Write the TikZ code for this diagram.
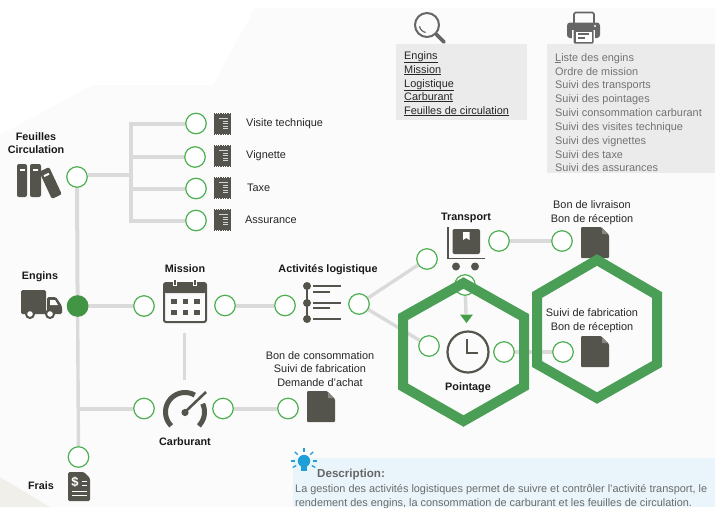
\documentclass[tikz,border=0pt]{standalone}
\usepackage{fontspec}
\setmainfont{Liberation Sans}
\usetikzlibrary{backgrounds}
\definecolor{ink}{HTML}{55544C}
\definecolor{ringgreen}{HTML}{4CAF50}
\definecolor{hexgreen}{HTML}{4A9E55}
\definecolor{linegray}{HTML}{DADADA}
\definecolor{panelgray}{HTML}{EBEBEB}
\definecolor{iconblue}{HTML}{1E9FD8}
\newcommand{\receiptico}[2]{%
  \fill[ink] (#1-8.5,#2-10) rectangle (#1+8.5,#2+10);
  \draw[ink,line width=1.2pt,dash pattern=on 1.3pt off 1pt] (#1-8.5,#2-10.4) -- (#1+8.5,#2-10.4);
  \draw[ink,line width=1.2pt,dash pattern=on 1.3pt off 1pt] (#1-8.5,#2+10.4) -- (#1+8.5,#2+10.4);
  \foreach \yy/\xx in {-5.5/-3,-3/1,-0.5/1,2/1,4.5/1}{\draw[white!75!ink,line width=1pt] (#1+\xx,#2+\yy) -- (#1+6,#2+\yy);}
}
\newcommand{\docico}[2]{%
  \fill[ink,rounded corners=1pt] (#1,#2) -- (#1+20,#2) -- (#1+28,#2+8) -- (#1+28,#2+31) -- (#1,#2+31) -- cycle;
  \fill[white] (#1+20.5,#2-0.5) -- (#1+28.5,#2-0.5) -- (#1+28.5,#2+7.5) -- cycle;
  \fill[ink!70!white] (#1+21,#2+1) -- (#1+27,#2+7) -- (#1+21,#2+7) -- cycle;
}
\begin{document}
\begin{tikzpicture}[x=1pt,y=-1pt,
  lbl/.style={inner sep=0pt,font=\fontsize{10.9}{13.7}\selectfont,text=black!85,align=center},
  blbl/.style={inner sep=0pt,font=\fontsize{10.8}{13.7}\selectfont\bfseries,text=black!90,align=center},
  panel/.style={inner sep=0pt,anchor=base west,font=\fontsize{10.9}{13.7}\selectfont},
  ring/.style={circle,draw=ringgreen,line width=1.2pt,fill=white,minimum size=20.5pt,inner sep=0pt},
  conn/.style={draw=linegray,line width=4pt},
  thin conn/.style={draw=linegray,line width=3.4pt},
  hexa/.style={draw=hexgreen,line width=10pt,miter limit=10,line join=miter}]
\useasboundingbox (0,0) rectangle (715,507);
% rings
\node[ring] (feuilles) at (77,177) {};
\node[ring,fill=ringgreen!85!black,draw=ringgreen!85!black] (engins) at (77.6,306) {};
\node[ring] (missionL) at (144,306) {};
\node[ring] (missionR) at (225,305.5) {};
\node[ring] (actL) at (285,305.5) {};
\node[ring] (actR) at (359,304) {};
\node[ring] (transL) at (427,259) {};
\node[ring] (transR) at (499,241) {};
\node[ring] (bonLiv) at (562,241) {};
\node[ring] (transD) at (465,285) {};
\node[ring] (pointL) at (429,346) {};
\node[ring] (pointR) at (504,352) {};
\node[ring] (suivi) at (563,352) {};
\node[ring] (carbL) at (144,408.5) {};
\node[ring] (carbR) at (223,408.5) {};
\node[ring] (bonCons) at (288,408.5) {};
\node[ring] (frais) at (78.5,457) {};
\node[ring] (visite) at (196,123.5) {};
\node[ring] (vignette) at (195,157) {};
\node[ring] (taxe) at (196,188.5) {};
\node[ring] (assur) at (196,220.5) {};
\coordinate (busTop) at (131,123.5);
\coordinate (busFeuilles) at (131,175);
\coordinate (busVig) at (131,157);
\coordinate (busTaxe) at (131,188.5);
\coordinate (busBot) at (131,220.5);
\coordinate (mainCarb) at (78,408.5);
\coordinate (vTop) at (184.5,333);
\coordinate (vBot) at (184.5,380);
\coordinate (arrowEnd) at (466,314);
% background and connectors
\begin{scope}[on background layer]
  \fill[white] (0,0) rectangle (715,507);
  \fill[black!1.5] (255,8) -- (715,8) -- (715,507) -- (50,507) -- (0,477) -- (0,135) -- (93,85) -- (213,85) -- cycle;
  \fill[black!7!white!97!yellow] (0,477) -- (50,507) -- (0,507) -- cycle;
  \fill[panelgray] (396,44) rectangle (527,120);
  \fill[panelgray] (547,44) rectangle (715,173);
  \fill[iconblue!10] (293,458) rectangle (715,507);
  \draw[conn] (feuilles) -- (engins);
  \draw[thin conn] (engins) -- (frais);
  \draw[conn] (feuilles.east |- busFeuilles) -- (busFeuilles);
  \draw[conn] (131,121.5) -- (131,222.5);
  \draw[conn] (busTop) -- (visite);
  \draw[conn] (busVig) -- (vignette);
  \draw[conn] (busTaxe) -- (taxe);
  \draw[conn] (busBot) -- (assur);
  \draw[conn] (engins) -- (missionL);
  \draw[conn] (missionR) -- (actL);
  \draw[thin conn] (actR) -- (transL);
  \draw[thin conn] (actR) -- (pointL);
  \draw[thin conn] (transR) -- (bonLiv);
  \draw[thin conn] (transD) -- (arrowEnd);
  \draw[thin conn] (pointR) -- (suivi);
  \draw[conn] (mainCarb) -- (carbL);
  \draw[conn] (carbR) -- (bonCons);
  \draw[thin conn] (vTop) -- (vBot);
\end{scope}
% arrowhead
\fill[ringgreen!90!black] (460,314.5) -- (473,314.5) -- (466.5,323) -- cycle;
% receipts
\receiptico{222}{124}\receiptico{222}{156}\receiptico{222}{188}\receiptico{222}{220}
% books
\fill[ink,rounded corners=2pt] (17,164) rectangle (27,197);
\fill[ink,rounded corners=2pt] (30,164) rectangle (41,197);
\fill[white] (19.5,169) rectangle (25,171);
\fill[white] (32.5,169) rectangle (38,171);
\begin{scope}[shift={(50.5,183)},rotate=25]
  \fill[ink,rounded corners=2pt] (-5.5,-15) rectangle (5.5,15);
  \fill[white] (-3,-10) rectangle (2.5,-8);
\end{scope}
% truck
\fill[ink,rounded corners=1.5pt] (21,290) rectangle (46,314);
\fill[ink,rounded corners=1.5pt] (47,297) -- (56,297) -- (62,306) -- (62,314) -- (47,314) -- cycle;
\fill[white] (50,300) -- (55,300) -- (58,305) -- (50,305) -- cycle;
\draw[ink,line width=2pt,fill=white] (30,314) circle[radius=4];
\draw[ink,line width=2pt,fill=white] (50,314) circle[radius=4];
% calendar
\draw[ink,line width=2pt,rounded corners=2pt] (164,283) rectangle (206,322);
\fill[ink,rounded corners=2pt] (164,283) rectangle (206,293);
\draw[white,line width=3.2pt] (175,279) -- (175,286);
\draw[white,line width=3.2pt] (195,279) -- (195,286);
\draw[ink,line width=1.5pt] (175,280) -- (175,285);
\draw[ink,line width=1.5pt] (195,280) -- (195,285);
\foreach \xx in {171,182.5,194}{\foreach \yy in {299,310}{\fill[ink] (\xx,\yy) rectangle ++(5.5,5);}}
% activities icon
\draw[ink,line width=2pt] (307,286) -- (307,319);
\foreach \yy in {286,303,319}{\fill[ink] (307,\yy) circle[radius=4];}
\foreach \yy/\xe in {286/341,292/330,303/341,308/330,319/341}{\draw[ink,line width=1.7pt] (313,\yy) -- (\xe,\yy);}
% transport icon
\draw[ink,line width=1.6pt] (448,227) -- (448,258.5) -- (485,258.5);
\fill[ink,rounded corners=2pt] (452.5,229) rectangle (480,254);
\fill[white] (463,232) -- (469.5,232) -- (469.5,240) -- (466.2,238) -- (463,240) -- cycle;
\fill[ink] (456,266.5) circle[radius=4];
\fill[ink] (475,266.5) circle[radius=4];
% clock
\draw[ink,line width=2.2pt] (468,352) circle[radius=20.5];
\draw[ink,line width=2pt] (467,339) -- (467,353) -- (477.5,353);
% gauge
\draw[ink,line width=5pt] plot[domain=225:60,samples=30] ({185+19.5*cos(\x)},{412-19.5*sin(\x)});
\draw[ink,line width=5pt] plot[domain=25:-45,samples=15] ({185+19.5*cos(\x)},{412-19.5*sin(\x)});
\fill[ink] (185,412.5) circle[radius=3.6];
\draw[ink,line width=2.6pt] (185,412) -- (206,392);
% documents
\docico{307}{391}\docico{581}{227}\docico{581}{336}
% frais icon
\fill[ink,rounded corners=1.5pt] (68,472) -- (84,472) -- (90,478) -- (90,501) -- (68,501) -- cycle;
\fill[white] (84.5,471.5) -- (90.5,477.5) -- (90.5,471.5) -- cycle;
\node[inner sep=0pt,text=white,font=\fontsize{13}{13}\selectfont\bfseries] (dollar) at (75,482) {\$};
\draw[white,line width=1pt] (82,481) -- (87,481);
\draw[white,line width=1pt] (82,485) -- (87,485);
\draw[white,line width=1pt] (72,491) -- (87,491);
\draw[white,line width=1pt] (72,495) -- (87,495);
% magnifier
\draw[black!60,line width=2pt] (427,25) circle[radius=12];
\draw[black!60,line width=1.2pt] plot[domain=190:260,samples=10] ({427+7.5*cos(\x)},{25-7.5*sin(\x)});
\draw[black!60,line width=3.6pt,line cap=round] (436.5,34.5) -- (444,42);
% printer
\draw[black!60,line width=1.6pt,rounded corners=1.5pt] (574,23) -- (574,12.5) -- (594,12.5) -- (594,23);
\fill[black!60,rounded corners=3pt] (567,22.5) rectangle (600,38);
\fill[white] (595,26) circle[radius=1.2];
\fill[white] (572,30) rectangle (595,44);
\fill[black!60,rounded corners=1pt] (573.5,29.5) rectangle (593.5,43.5);
\fill[white] (575.5,31.5) rectangle (591.5,41.5);
\draw[black!60,line width=1.2pt] (578,34) -- (589,34);
\draw[black!60,line width=1.2pt] (578,38) -- (585,38);
% hexagons
\draw[hexa] (463.5,283) -- (524,317) -- (524,386.5) -- (463.5,421) -- (403,386.5) -- (403,317) -- cycle;
\draw[hexa] (597,260) -- (657,295) -- (657,364) -- (597,398) -- (537,364) -- (537,295) -- cycle;
% labels
\node[blbl] (tFeuilles) at (36,143) {Feuilles\\Circulation};
\node[blbl] (tEngins) at (40,276.5) {Engins};
\node[blbl] (tMission) at (185,269) {Mission};
\node[blbl] (tAct) at (328,269.5) {Activités logistique};
\node[blbl] (tTrans) at (466,217.5) {Transport};
\node[blbl] (tCarb) at (185,442) {Carburant};
\node[blbl] (tPoint) at (468,387.5) {Pointage};
\node[blbl] (tFrais) at (41,486) {Frais};
\node[lbl,anchor=west] (tVisite) at (246,123.5) {Visite technique};
\node[lbl,anchor=west] (tVig) at (246,155.5) {Vignette};
\node[lbl,anchor=west] (tTaxe) at (247,188) {Taxe};
\node[lbl,anchor=west] (tAssur) at (245,220) {Assurance};
\node[lbl] (tBonCons) at (320,369) {Bon de consommation\\Suivi de fabrication\\Demande d'achat};
\node[lbl] (tBonLiv) at (592,213) {Bon de livraison\\Bon de réception};
\node[lbl] (tSuivi) at (592,321) {Suivi de fabrication\\Bon de réception};
% search panel
\foreach \nn/\yy/\tt in {s1/59/Engins,s2/73/Mission,s3/87/Logistique,s4/100/Carburant,s5/114/Feuilles de circulation}{
  \node[panel,text=black!85] (\nn) at (404,\yy) {\underline{\tt}};}
% print panel
\foreach \nn/\yy/\tt in {p1/61/{\underline{L}iste des engins},p2/75/Ordre de mission,p3/88/Suivi des transports,p4/102/Suivi des pointages,p5/116/Suivi consommation carburant,p6/130/Suivi des visites technique,p7/144/Suivi des vignettes,p8/158/Suivi des taxe,p9/171/Suivi des assurances}{
  \node[panel,text=black!55] (\nn) at (555,\yy) {\tt};}
% description
\fill[iconblue] (304,461) circle[radius=6.2];
\fill[iconblue] (301,465) rectangle (307,471);
\foreach \aa in {90,45,135,0,180,-30,210}{\draw[iconblue,line width=1.3pt] ({304+9*cos(\aa)},{461-9*sin(\aa)}) -- ({304+13*cos(\aa)},{461-13*sin(\aa)});}
\node[panel,text=black!60,font=\fontsize{11.6}{13}\selectfont\bfseries] (tDesc) at (317,477) {Description:};
\node[panel,text=black!58,font=\fontsize{10.9}{13.7}\selectfont] (dl1) at (295,492) {La gestion des activités logistiques permet de suivre et contrôler l'activité transport, le};
\node[panel,text=black!58,font=\fontsize{10.9}{13.7}\selectfont] (dl2) at (295,506) {rendement des engins, la consommation de carburant et les feuilles de circulation.};
\end{tikzpicture}
\end{document}
